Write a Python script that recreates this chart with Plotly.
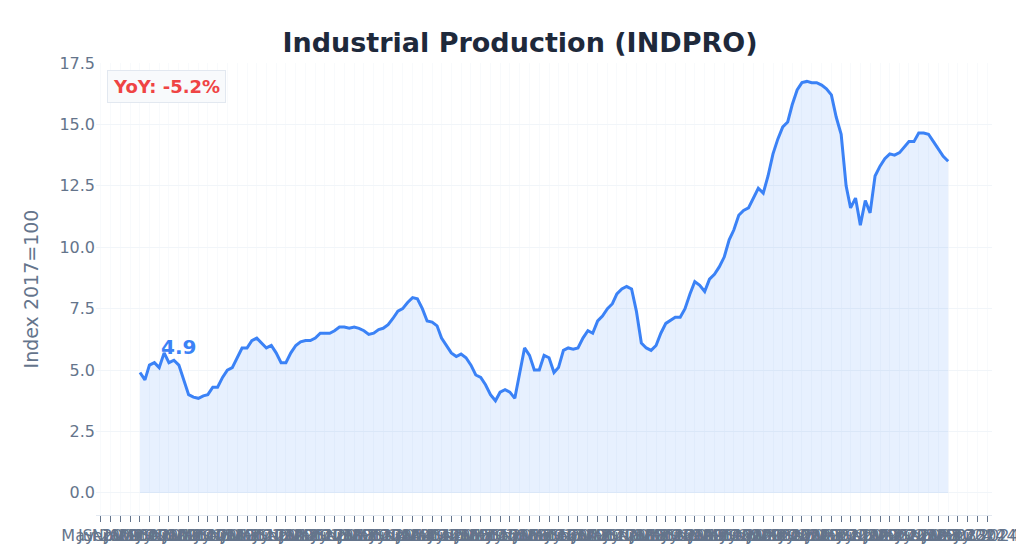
import pandas as pd
import plotly.graph_objects as go

values = [4.9, 4.6, 5.2, 5.3, 5.1, 5.7, 5.3, 5.4, 5.2, 4.6, 4.0, 3.9, 3.85, 3.95, 4.0, 4.3,
          4.3, 4.7, 5.0, 5.1, 5.5, 5.9, 5.9, 6.2, 6.3, 6.1, 5.9, 6.0, 5.7, 5.3, 5.3, 5.7,
          6.0, 6.15, 6.2, 6.2, 6.3, 6.5, 6.5, 6.5, 6.6, 6.75, 6.75, 6.7, 6.75, 6.7, 6.6,
          6.45, 6.5, 6.65, 6.7, 6.85, 7.1, 7.4, 7.5, 7.75, 7.95, 7.9, 7.5, 7.0, 6.95, 6.8,
          6.3, 6.0, 5.7, 5.55, 5.65, 5.5, 5.2, 4.8, 4.7, 4.4, 4.0, 3.75, 4.1, 4.2, 4.1,
          3.85, 4.8, 5.9, 5.6, 5.0, 5.0, 5.6, 5.5, 4.9, 5.1, 5.8, 5.9, 5.85, 5.9, 6.3,
          6.6, 6.5, 7.0, 7.2, 7.5, 7.7, 8.1, 8.3, 8.4, 8.3, 7.4, 6.1, 5.9, 5.8, 6.0, 6.5,
          6.9, 7.05, 7.15, 7.15, 7.5, 8.1, 8.6, 8.45, 8.2, 8.7, 8.9, 9.2, 9.6, 10.3, 10.7,
          11.3, 11.5, 11.6, 12.0, 12.4, 12.2, 12.9, 13.8, 14.4, 14.9, 15.1, 15.8, 16.4,
          16.7, 16.75, 16.7, 16.7, 16.6, 16.45, 16.2, 15.3, 14.6, 12.5, 11.6, 12.0, 10.9,
          11.9, 11.4, 12.9, 13.3, 13.6, 13.8, 13.75, 13.85, 14.1, 14.3, 14.3, 14.65,
          14.65, 14.6, 14.3, 14.0, 13.7, 13.5]
dates = pd.date_range('2010-01-01', periods=len(values), freq='MS')
yoy_text = 'YoY: -5.2%'

fig = go.Figure()
fig.add_trace(go.Scatter(x=dates, y=values, mode='lines', fill='tozeroy',
                         line=dict(color='#3b82f6', width=3),
                         fillcolor='rgba(59,130,246,0.12)', showlegend=False))
fig.add_annotation(x=dates[8], y=values[0], text=f'<b>{values[0]}</b>', showarrow=False,
                   yshift=26, font=dict(size=20, color='#3b82f6'))
fig.add_annotation(xref='paper', yref='paper', x=0.012, y=0.985, xanchor='left', yanchor='top',
                   text=f'<b>{yoy_text}</b>', showarrow=False,
                   font=dict(size=18, color='#ef4444'), bgcolor='#f8fafc',
                   bordercolor='#e2e8f0', borderwidth=1, borderpad=5)
pad = pd.DateOffset(months=9)
fig.update_layout(
    title=dict(text='<b>Industrial Production (INDPRO)</b>', x=0.5, y=0.955,
               font=dict(size=27, color='#1e293b')),
    width=1024, height=552, autosize=False,
    margin=dict(l=88, r=22, t=55, b=45),
    plot_bgcolor='white', paper_bgcolor='white',
    font=dict(family='DejaVu Sans', color='#64748b', size=16),
    yaxis=dict(title='Index 2017=100', range=[-0.9, 17.5], dtick=2.5, tickformat='.1f',
               gridcolor='#f1f5f9', zeroline=False),
    xaxis=dict(range=[dates[0] - pad, dates[-1] + pad], dtick='M2', tickformat='%b %Y',
               ticks='outside', ticklen=6, tickcolor='#64748b', gridcolor='#f8fafc',
               tickangle=0, showline=True, linecolor='#e2e8f0'),
)
fig.write_html('out.html')
